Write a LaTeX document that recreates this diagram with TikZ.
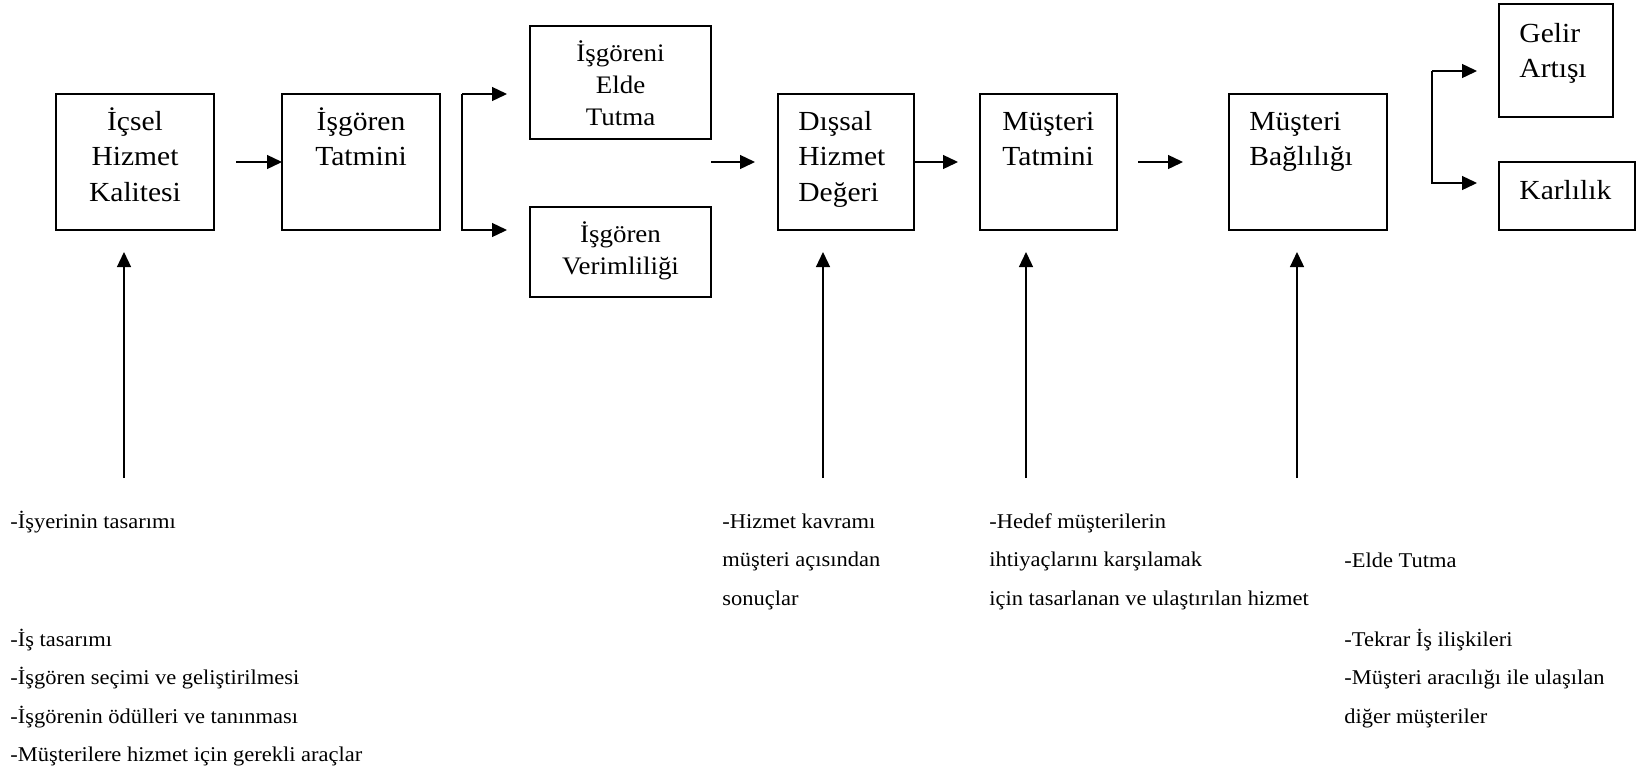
\documentclass[tikz,border=0pt]{standalone}
\usepackage{fontspec}
\setmainfont{Liberation Serif}[FakeStretch=1.07]
\usetikzlibrary{arrows.meta,calc}
\newcommand\tallB{\rule{0pt}{13pt}}
\newcommand\tallS{\rule{0pt}{12pt}}
\newcommand\tallN{\rule{0pt}{11pt}}
\begin{document}
\begin{tikzpicture}[x=0.5pt,y=-0.5pt,
  box/.style={draw,line width=0.65pt,inner sep=0pt,outer sep=0pt},
  arr/.style={line width=0.65pt,-{Triangle[length=7.5pt,width=7pt]}},
  bigtxt/.style={inner sep=0pt,font=\fontsize{13.8}{17.7}\selectfont},
  smalltxt/.style={inner sep=0pt,font=\fontsize{12.6}{15.9}\selectfont},
  notetxt/.style={inner sep=0pt,anchor=north west,align=left,font=\fontsize{10.5}{19.2}\selectfont}
]
\useasboundingbox (0,0) rectangle (1636,772);

% boxes
\node[box,minimum width=79pt,minimum height=68pt] (b1) at (135,162) {};
\node[box,minimum width=79pt,minimum height=68pt] (b2) at (361,162) {};
\node[box,minimum width=90.5pt,minimum height=56.5pt] (b3) at (620.5,82.5) {};
\node[box,minimum width=90.5pt,minimum height=45pt] (b4) at (620.5,252) {};
\node[box,minimum width=68pt,minimum height=68pt] (b5) at (846,162) {};
\node[box,minimum width=68.5pt,minimum height=68pt] (b6) at (1048.5,162) {};
\node[box,minimum width=79pt,minimum height=68pt] (b7) at (1308,162) {};
\node[box,minimum width=57pt,minimum height=56.5pt] (b8) at (1556,60.5) {};
\node[box,minimum width=68pt,minimum height=34pt] (b9) at (1567,196) {};

% box texts
\node[bigtxt,anchor=north,align=center] (t1) at ($(b1.north)+(0,10)$) {\tallB İçsel\\Hizmet\\Kalitesi};
\node[bigtxt,anchor=north,align=center] (t2) at ($(b2.north)+(0,10)$) {\tallB İşgören\\Tatmini};
\node[smalltxt,anchor=north,align=center] (t3) at ($(b3.north)+(0,11)$) {\tallS İşgöreni\\Elde\\Tutma};
\node[smalltxt,anchor=north,align=center] (t4) at ($(b4.north)+(0,11)$) {\tallS İşgören\\Verimliliği};
\node[bigtxt,anchor=north west,align=left] (t5) at ($(b5.north west)+(20,10)$) {\tallB Dışsal\\Hizmet\\Değeri};
\node[bigtxt,anchor=north west,align=left] (t6) at ($(b6.north west)+(22,10)$) {\tallB Müşteri\\Tatmini};
\node[bigtxt,anchor=north west,align=left] (t7) at ($(b7.north west)+(20,10)$) {\tallB Müşteri\\Bağlılığı};
\node[bigtxt,anchor=north west,align=left] (t8) at ($(b8.north west)+(20,12)$) {\tallB Gelir\\Artışı};
\node[bigtxt,anchor=north west,align=left] (t9) at ($(b9.north west)+(20,11)$) {\tallB Karlılık};

% horizontal connectors
\draw[arr] ($(b1.east)+(22,0)$) -- (b2.west);
\coordinate (s1) at ($(b2.north east)+(22,0)$);
\coordinate (s2) at ($(b2.south east)+(22,0)$);
\coordinate (e1) at ($(b3.west|-s1)+(-23,0)$);
\coordinate (e2) at ($(b4.west|-s2)+(-23,0)$);
\draw[arr] (s1) -- (e1);
\draw[arr] (s1) -- (s2) -- (e2);
\draw[arr] (b3.east|-b5.west) -- ($(b5.west)+(-23,0)$);
\draw[arr] (b5.east) -- ($(b6.west)+(-22,0)$);
\draw[arr] ($(b6.east)+(21,0)$) -- ($(b7.west)+(-46,0)$);
\coordinate (r1) at (1432,71);
\coordinate (r2) at (1432,183);
\coordinate (f1) at ($(b8.west|-r1)+(-22,0)$);
\coordinate (f2) at ($(b9.west|-r2)+(-22,0)$);
\draw[arr] (r1) -- (f1);
\draw[arr] (r1) -- (r2) -- (f2);

% vertical connectors
\coordinate (u1) at (124,478);
\coordinate (u5) at (823,478);
\coordinate (u6) at (1026,478);
\coordinate (u7) at (1297,478);
\draw[arr] (u1) -- ($(u1|-b1.south)+(0,22)$);
\draw[arr] (u5) -- ($(u5|-b5.south)+(0,22)$);
\draw[arr] (u6) -- ($(u6|-b6.south)+(0,22)$);
\draw[arr] (u7) -- ($(u7|-b7.south)+(0,22)$);

% notes
\node[notetxt] (n1) at (10,506) {\tallN -İşyerinin tasarımı};
\node[notetxt] (n2) at (10,624) {\tallN -İş tasarımı\\-İşgören seçimi ve geliştirilmesi\\-İşgörenin ödülleri ve tanınması\\-Müşterilere hizmet için gerekli araçlar};
\node[notetxt] (n3) at (722,506) {\tallN -Hizmet kavramı\\müşteri açısından\\sonuçlar};
\node[notetxt] (n4) at (989,506) {\tallN -Hedef müşterilerin\\ihtiyaçlarını karşılamak\\için tasarlanan ve ulaştırılan hizmet};
\node[notetxt] (n5) at (1344,545) {\tallN -Elde Tutma};
\node[notetxt] (n6) at (1344,624) {\tallN -Tekrar İş ilişkileri\\-Müşteri aracılığı ile ulaşılan\\diğer müşteriler};
\end{tikzpicture}
\end{document}
